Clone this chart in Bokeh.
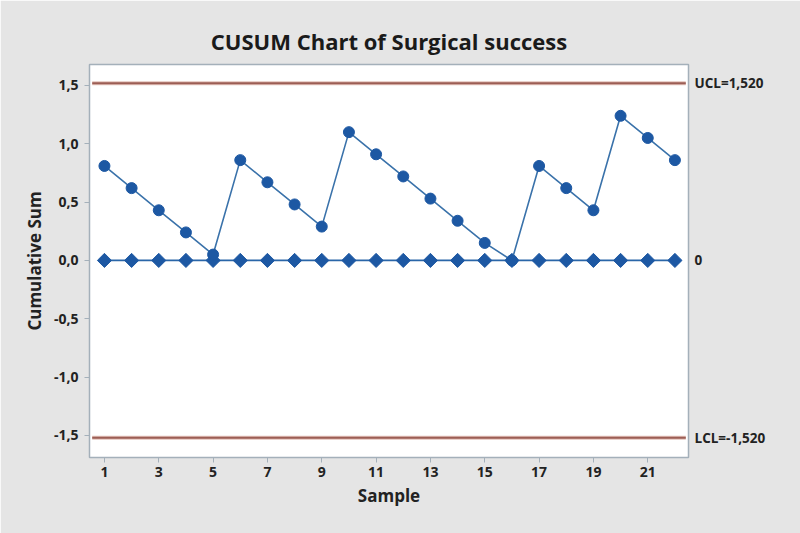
import math
from bokeh.plotting import figure
from bokeh.models import FixedTicker, LinearAxis, Range1d, ColumnDataSource
from bokeh.embed import file_html
from bokeh.resources import INLINE

samples = list(range(1, 23))
upper_cusum = [0.81, 0.62, 0.43, 0.24, 0.05, 0.86, 0.67, 0.48, 0.29, 1.10, 0.91,
               0.72, 0.53, 0.34, 0.15, 0.00, 0.81, 0.62, 0.43, 1.24, 1.05, 0.86]
lower_cusum = [0.0] * 22
ucl = 1.52
lcl = -1.52
center = 0.0
x_ticks = [1, 3, 5, 7, 9, 11, 13, 15, 17, 19, 21]
y_ticks = [-1.5, -1.0, -0.5, 0.0, 0.5, 1.0, 1.5]
y_tick_labels = ["-1,5", "-1,0", "-0,5", "0,0", "0,5", "1,0", "1,5"]
limit_labels = ["LCL=-1,520", "0", "UCL=1,520"]

FONT = "Open Sans"
BG = "#e5e5e5"
FRAME = "#a4b0ba"
TXT = "#222222"

p = figure(width=800, height=533, output_backend="svg", toolbar_location=None,
           x_range=Range1d(0.45, 22.5), y_range=Range1d(-1.69, 1.68),
           min_border_left=89, min_border_right=112, min_border_top=64,
           min_border_bottom=76, background_fill_color="white",
           border_fill_color=BG, outline_line_color=FRAME, outline_line_width=1.5)

p.title.text = "CUSUM Chart of Surgical success"
p.title.align = "center"
p.title.text_font = FONT
p.title.text_font_size = "22px"
p.title.text_font_style = "bold"
p.title.text_color = "#1a1a1a"
p.title.offset = 0
p.title.standoff = 18

p.grid.visible = False

p.xaxis.ticker = FixedTicker(ticks=x_ticks)
p.yaxis.ticker = FixedTicker(ticks=y_ticks)
p.yaxis.major_label_overrides = {t: l for t, l in zip(y_ticks, y_tick_labels)}
p.xaxis.axis_label = "Sample"
p.yaxis.axis_label = "Cumulative Sum"
for ax in (p.xaxis[0], p.yaxis[0]):
    ax.axis_line_color = FRAME
    ax.major_tick_line_color = FRAME
    ax.minor_tick_line_color = None
    ax.major_tick_out = 5
    ax.major_tick_in = 0
    ax.major_label_text_font = FONT
    ax.major_label_text_font_style = "bold"
    ax.major_label_text_font_size = "14px"
    ax.major_label_text_color = TXT
    ax.axis_label_text_font = FONT
    ax.axis_label_text_font_style = "bold"
    ax.axis_label_text_font_size = "17px"
    ax.axis_label_text_color = TXT
p.yaxis.major_label_standoff = 6
p.xaxis.major_label_standoff = 4
p.xaxis.axis_label_standoff = 4

right = LinearAxis(ticker=FixedTicker(ticks=[lcl, center, ucl]),
                   major_label_overrides={lcl: limit_labels[0], center: limit_labels[1], ucl: limit_labels[2]},
                   axis_line_color=None, major_tick_line_color=None, minor_tick_line_color=None,
                   major_label_text_font=FONT, major_label_text_font_style="bold",
                   major_label_text_font_size="13.5px", major_label_text_color=TXT,
                   major_label_standoff=0)
p.add_layout(right, "right")

# control limits
for val in (ucl, lcl):
    p.line([0.55, 22.4], [val, val], line_color="#e3c2ba", line_width=4)
    p.line([0.55, 22.4], [val, val], line_color="#9c5e55", line_width=2)

src = ColumnDataSource(dict(x=samples, up=upper_cusum, lo=lower_cusum))
p.line("x", "lo", source=src, line_color="#2a66a8", line_width=1.6)
p.scatter("x", "lo", source=src, marker="square", angle=math.pi / 4, size=10,
          fill_color="#1d58a3", line_color="#1d58a3")
p.line("x", "up", source=src, line_color="#3a72aa", line_width=1.6)
p.scatter("x", "up", source=src, marker="circle", size=11, fill_color="#1d58a3", line_color="#1d58a3")

open("out.html", "w").write(file_html(p, INLINE))
